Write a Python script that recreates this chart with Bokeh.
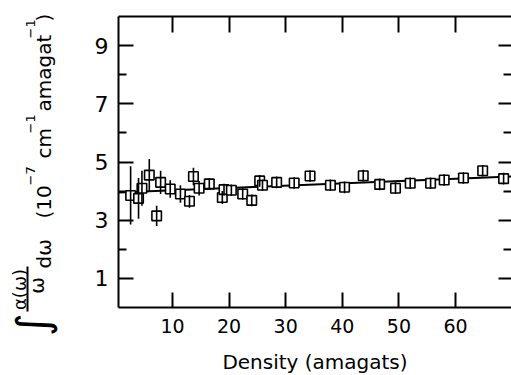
from bokeh.plotting import figure
from bokeh.models import Range1d, LinearAxis, FixedTicker, BoxAnnotation, ColumnDataSource
from bokeh.embed import file_html
from bokeh.resources import INLINE
from bokeh.core.properties import value
import math

# ---- data ----
density = [2.6, 4.0, 4.6, 5.9, 7.2, 7.9, 9.6, 11.4, 13.0, 13.7, 14.7, 16.5, 18.8, 19.1,
           20.4, 22.4, 24.0, 25.4, 25.9, 28.4, 31.5, 34.3, 37.9, 40.4, 43.7, 46.6,
           49.4, 52.0, 55.6, 58.0, 61.4, 64.8, 68.5]
integral = [3.85, 3.75, 4.10, 4.55, 3.15, 4.30, 4.07, 3.90, 3.65, 4.50, 4.10, 4.25, 3.78, 4.05,
            4.03, 3.90, 3.68, 4.35, 4.20, 4.30, 4.28, 4.52, 4.20, 4.13, 4.53, 4.23,
            4.10, 4.27, 4.27, 4.38, 4.45, 4.70, 4.43]
error = [1.00, 0.70, 0.60, 0.55, 0.35, 0.40, 0.30, 0.30, 0.22, 0.30, 0.25, 0.20, 0.22, 0.20,
         0.20, 0.20, 0.20, 0.20, 0.20, 0.20, 0.20, 0.20, 0.20, 0.20, 0.20, 0.20,
         0.20, 0.20, 0.20, 0.20, 0.20, 0.20, 0.20]
x_box = [0.46, 69.9]        # plotted density interval
y_box = [0.0, 10.0]         # plotted integral interval
fit_x = [0.46, 69.9]
fit_y = [3.95, 4.50]
x_ticks = [10, 20, 30, 40, 50, 60]
y_major = [1, 3, 5, 7, 9]
y_minor = [2, 4, 6, 8]
x_title = "Density (amagats)"

# y title pieces: text, screen px x (baseline), screen px y (start), font px
title_main = ["d\u03c9", "(10", "cm", "amagat", ")"]
title_main_pos = [(43, 268), (43, 218), (43, 158), (43, 111), (43, 21)]
title_sup = ["\u22127", "\u22121", "\u22121"]
title_sup_pos = [(30, 185), (30, 133), (30, 38)]
frac_num, frac_den, integral_sign = "\u03b1(\u03c9)", "\u03c9", "\u222b"

# ---- geometry: the frame covers the whole canvas; axes are pinned to the box ----
W, H = 511, 375
PXU, X_ORIGIN_PX = 5.66, 115.4      # px per density unit, px of density 0
PYU, Y_ORIGIN_PX = 29.1, 307.0      # px per integral unit, px of integral 0
X0 = -X_ORIGIN_PX / PXU
X1 = (W - X_ORIGIN_PX) / PXU
Y0 = -(H - Y_ORIGIN_PX) / PYU
Y1 = Y_ORIGIN_PX / PYU
FONT = "DejaVu Sans"


def dx(px):
    return X0 + px * (X1 - X0) / W


def dy(py):
    return Y1 - py * (Y1 - Y0) / H


p = figure(width=W, height=H, output_backend="svg", toolbar_location=None,
           x_range=Range1d(X0, X1), y_range=Range1d(Y0, Y1),
           min_border=0, background_fill_color="white", border_fill_color="white")
p.outline_line_color = None
p.grid.visible = False


def style_common(ax):
    ax.major_tick_out = 0
    ax.minor_tick_out = 0
    ax.axis_line_width = 2
    ax.axis_line_color = "black"
    ax.major_tick_line_width = 2
    ax.minor_tick_line_width = 2


# bottom axis
xa = p.xaxis[0]
xa.fixed_location = y_box[0]
xa.bounds = (x_box[0], x_box[1])
xa.ticker = FixedTicker(ticks=x_ticks, minor_ticks=[])
style_common(xa)
xa.major_tick_in = 15
xa.minor_tick_in = 0
xa.major_label_text_font = FONT
xa.major_label_text_font_size = "19px"
xa.major_label_text_color = "black"
xa.major_label_standoff = 11
xa.axis_label = x_title
xa.axis_label_text_font = FONT
xa.axis_label_text_font_size = "20px"
xa.axis_label_text_font_style = "normal"
xa.axis_label_text_color = "black"
xa.axis_label_standoff = 14

# left axis
ya = p.yaxis[0]
ya.fixed_location = x_box[0]
ya.bounds = (y_box[0], y_box[1])
ya.ticker = FixedTicker(ticks=y_major, minor_ticks=y_minor)
style_common(ya)
ya.major_tick_in = 15
ya.minor_tick_in = 8
ya.major_label_text_font = FONT
ya.major_label_text_font_size = "22px"
ya.major_label_text_color = "black"
ya.major_label_standoff = 10

# top axis
ta = LinearAxis(ticker=FixedTicker(ticks=x_ticks, minor_ticks=[]),
                fixed_location=y_box[1], bounds=(x_box[0], x_box[1]))
style_common(ta)
ta.major_tick_in = 16
ta.minor_tick_in = 0
ta.major_label_text_font_size = "1px"
ta.major_label_text_color = None
p.add_layout(ta, "above")

# right axis
ra = LinearAxis(ticker=FixedTicker(ticks=y_major, minor_ticks=y_minor),
                fixed_location=x_box[1], bounds=(y_box[0], y_box[1]))
style_common(ra)
ra.axis_line_color = None
ra.major_tick_in = 13
ra.minor_tick_in = 8
ra.major_label_text_font_size = "1px"
ra.major_label_text_color = None
p.add_layout(ra, "right")

# data
lo = [v - e for v, e in zip(integral, error)]
hi = [v + e for v, e in zip(integral, error)]
src = ColumnDataSource(dict(x=density, y=integral, lo=lo, hi=hi))
p.line(fit_x, fit_y, line_color="black", line_width=2)
p.scatter("x", "y", source=src, marker="square", size=9.5, fill_color="white",
          line_color="black", line_width=1.6)
p.segment(x0="x", y0="lo", x1="x", y1="hi", source=src, line_color="black", line_width=1.6)

# rotated y-axis title built from text glyphs
ANG = math.pi / 2
p.text(x=[dx(a) for a, _ in title_main_pos], y=[dy(b) for _, b in title_main_pos],
       text=title_main, angle=ANG, text_font=value(FONT), text_font_size="20px",
       text_color="black", text_align="left", text_baseline="alphabetic")
p.text(x=[dx(a) for a, _ in title_sup_pos], y=[dy(b) for _, b in title_sup_pos],
       text=title_sup, angle=ANG, text_font=value(FONT), text_font_size="13px",
       text_color="black", text_align="left", text_baseline="alphabetic")
p.text(x=[dx(19)], y=[dy(289)], text=[frac_num], angle=ANG, text_font=value(FONT),
       text_font_size="18px", text_color="black", text_align="center", text_baseline="middle")
p.text(x=[dx(36)], y=[dy(285)], text=[frac_den], angle=ANG, text_font=value(FONT),
       text_font_size="20px", text_color="black", text_align="center", text_baseline="middle")
p.text(x=[dx(32)], y=[dy(324)], text=[integral_sign], angle=ANG, text_font=value(FONT),
       text_font_size="44px", text_color="black", text_align="center", text_baseline="middle")
p.add_layout(BoxAnnotation(left=dx(26), right=dx(28), bottom=dy(311), top=dy(266),
                           fill_color="black", fill_alpha=1, line_color=None))

open("out.html", "w").write(file_html(p, INLINE))
